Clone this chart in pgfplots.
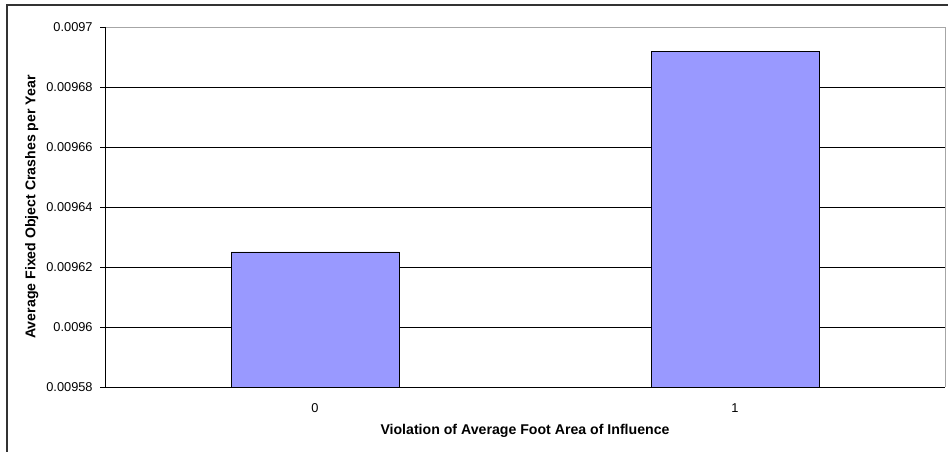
\documentclass[border=0pt]{standalone}
\usepackage{pgfplots}
\pgfplotsset{compat=1.18}
\usepackage{fontspec}
\setmainfont{Liberation Sans}
\definecolor{barblue}{HTML}{9999FF}
\begin{document}
\begin{tikzpicture}
\useasboundingbox (0,0) rectangle (711pt,339pt);
\draw[line width=0.9pt, black!80] (5.25pt,-20pt) -- (5.25pt,335.25pt) -- (730pt,335.25pt);
\begin{axis}[
  at={(78.75pt,48.75pt)}, anchor=south west,
  scale only axis, width=630pt, height=270pt,
  xmin=-0.5, xmax=1.5, ymin=0.00958, ymax=0.0097,
  scaled y ticks=false,
  xtick pos=bottom, ytick pos=left,
  ytick={0.00958,0.0096,0.00962,0.00964,0.00966,0.00968,0.0097},
  yticklabels={0.00958,0.0096,0.00962,0.00964,0.00966,0.00968,0.0097},
  xtick={0,1}, xticklabels={0,1},
  major x tick style={draw=none},
  extra x ticks={-0.5,0.5,1.5}, extra x tick labels={},
  extra x tick style={major tick length=4pt, tick align=outside, tick style={draw=black, line width=0.6pt}, grid=none},
  ytick align=outside, major tick length=3.75pt,
  ytick style={black, line width=0.6pt},
  ymajorgrids, grid style={black, line width=0.6pt},
  axis line style={draw=none},
  ybar, bar width=126pt,
  tick label style={font=\fontsize{9.6}{11}\selectfont},
  xticklabel style={yshift=-5pt},
  yticklabel style={xshift=-2pt},
  label style={font=\fontsize{10.6}{12}\selectfont\bfseries},
  xlabel={Violation of Average Foot Area of Influence},
  ylabel={Average Fixed Object Crashes per Year},
  xlabel style={at={(axis description cs:0.5,0)}, anchor=center, yshift=-33pt},
  ylabel style={at={(axis description cs:0,0.5)}, anchor=center, yshift=55pt},
  clip=false,
]
\addplot[fill=barblue, draw=black, line width=0.6pt] coordinates {(0,0.009625) (1,0.0096917)};
\draw[gray!70, line width=0.6pt] (rel axis cs:0,1) -- (rel axis cs:1,1) -- (rel axis cs:1,0);
\draw[black, line width=0.6pt] (rel axis cs:0,1) -- (rel axis cs:0,0) -- (rel axis cs:1,0);
\end{axis}
\end{tikzpicture}
\end{document}
